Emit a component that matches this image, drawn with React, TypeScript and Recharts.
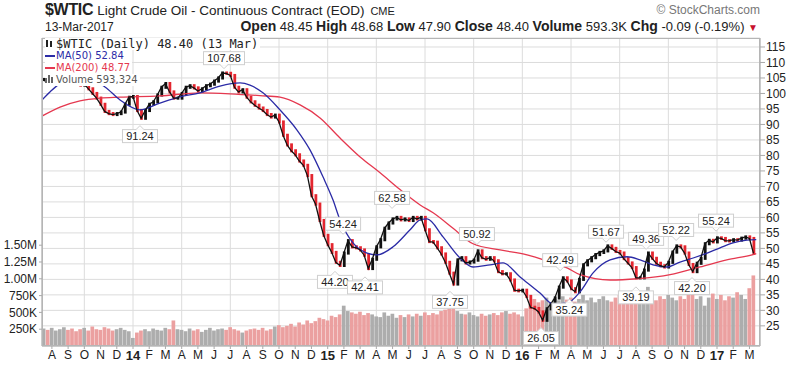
import React from "react";
import { Bar, CartesianGrid, Cell, ComposedChart, Line, ReferenceDot, XAxis, YAxis } from "recharts";

// x values are months counted from Jan 2013 (Jan 2014 = 12, Jan 2017 = 48)
const START_MONTH = 6.5;
const WEEK = 0.25;

// weekly closes
const closes = [
  104.5, 103, 104, 105.5, 106.5, 107, 106, 105, 103.5, 102.7,
  103, 101.5, 100, 98.5, 96.5, 94.2, 93.5, 93.2, 93.5, 94,
  96.5, 98.8, 99, 94.5, 92, 94.5, 96.5, 97.3, 99.5, 102,
  103.2, 100.5, 98.5, 98.5, 100, 102, 102.5, 101.8, 100.8, 101.5,
  102.5, 103, 104, 105, 106.6, 106.5, 105.8, 102, 100.5, 101.2,
  98.8, 97.3, 96.2, 95.3, 94.5, 93.2, 92.4, 93, 90.8, 86.5,
  83.4, 81.5, 80.2, 78.2, 76.8, 73.5, 67, 64.3, 59, 54.2,
  51.2, 48.7, 45.5, 44.5, 48.5, 52.5, 50.5, 50.2, 49.5, 47.8,
  43.5, 46.5, 50.5, 52.8, 56.5, 58.2, 59.5, 60, 59.2, 59.5,
  59, 60, 59.5, 60, 56, 52.2, 52, 50.2, 48.2, 45.5,
  42, 38.5, 46.3, 47, 45.3, 45.6, 46.2, 49.2, 47, 46.5,
  47, 46, 42.5, 41.8, 41.8, 39.8, 36.5, 36.3, 36.5, 34.5,
  31, 30.6, 29.5, 26.8, 30.5, 32, 34, 37.5, 40.5, 39.5,
  37, 36, 40, 44.7, 46, 47, 48, 48.7, 49.2, 50.8,
  50, 49, 48.5, 46.7, 45.3, 43.8, 40.5, 40.5, 43, 48.5,
  46.8, 45.2, 44.4, 44, 45.5, 48.8, 50.8, 50.5, 48.5, 44.8,
  42.5, 45.2, 46.8, 51.5, 52.6, 52.1, 53.4, 53.2, 52.5, 52.4,
  52.8, 52.7, 53.3, 53.7, 53.2, 48.4,
];

// weekly volume, thousands
const volumes = [
  260, 240, 270, 230, 250, 280, 240, 260, 220, 250,
  270, 230, 290, 250, 240, 280, 260, 230, 250, 270,
  240, 220, 120, 200,
  230, 250, 220, 260, 240, 230, 270, 250, 380, 250,
  240, 220, 260, 230, 250, 210, 240, 270, 230, 250,
  260, 240, 280, 250, 230, 200, 230, 250, 260, 240,
  270, 230, 250, 290, 310, 280, 300, 330, 290, 350,
  320, 380, 340, 370, 420, 400, 380, 450, 430, 470,
  600, 520, 500, 480, 510, 460, 490, 470, 440, 430,
  500, 450, 480, 420, 460, 430, 470, 440, 480, 450,
  500, 460, 490, 470, 520, 540, 560, 590, 520, 480,
  470, 500, 460, 440, 480, 450, 470, 490, 460, 500,
  520, 480, 500, 470, 440, 560, 620, 700, 650, 680,
  720, 650, 700, 680, 740, 690, 720, 660, 700, 760,
  680, 720, 650, 700, 740, 680, 660, 720, 760, 700,
  680, 740, 720, 780, 700, 880, 720, 680, 740, 700,
  760, 720, 680, 740, 700, 760, 820, 700, 740, 600,
  720, 780, 700, 760, 680, 740, 720, 800, 760, 700, 860, 1050,
];

const ma50Months = [
  6.39, 6.88, 8.12, 9.35, 10.27, 11.2, 12.43, 13.66, 14.9, 16.13,
  17.36, 18.6, 19.21, 20.01, 21.06, 22.11, 22.91, 23.71, 24.33, 24.76,
  25.56, 26.43, 27.04, 28.03, 29.08, 29.7, 30.13, 31.11, 32.16, 32.96,
  34.01, 34.81, 35.86, 37.09, 37.89, 38.76, 39.56, 40.36, 41.41, 42.46,
  43.26, 44.06, 44.92, 45.72, 46.53, 47.39, 48.19, 48.99, 49.85, 50.42,
];
const ma50Values = [
  97.9, 100.5, 104.5, 104.5, 102.1, 97.9, 94.7, 96.9, 98.9, 100.2,
  102.4, 103.4, 102.7, 100.2, 94.7, 88.2, 81.8, 73.1, 65.6, 59.2,
  51.8, 48.5, 47.9, 50.5, 56.0, 59.2, 59.5, 53.7, 46.9, 44.0,
  44.7, 45.3, 40.8, 35.6, 32.1, 32.4, 36.0, 42.1, 46.3, 47.3,
  46.3, 44.7, 44.0, 45.6, 46.9, 48.5, 50.2, 51.8, 52.7, 52.84,
];

const ma200Months = [
  6.39, 7.5, 8.73, 9.97, 11.2, 13.66, 16.13, 17.98, 19.83, 21.06,
  22.3, 23.53, 24.76, 26.0, 27.23, 28.46, 29.7, 30.5, 31.73, 32.96,
  34.63, 36.29, 37.71, 38.76, 39.56, 41.41, 43.07, 45.11, 46.96, 48.6,
  50.22, 50.42,
];
const ma200Values = [
  92.7, 95.6, 97.6, 98.5, 98.8, 99.2, 100.2, 99.9, 99.3, 98.8,
  96.3, 92.1, 85.6, 79.5, 74.4, 69.0, 64.0, 61.5, 56.5, 51.5,
  49.5, 47.9, 45.6, 43.7, 41.5, 39.8, 40.2, 41.5, 44.0, 46.3,
  48.0, 48.3,
];

// high/low callouts
const calloutMonths = [17.61, 12.43, 24.95, 24.45, 27.97, 26.3, 31.54, 33.2, 38.33, 37.15, 38.9, 41.16, 43.63, 43.0, 45.48, 46.46, 47.94];
const calloutValues = [107.68, 91.24, 54.24, 44.2, 62.58, 42.41, 37.75, 50.92, 42.49, 26.05, 35.24, 51.67, 49.36, 39.19, 52.22, 42.2, 55.24];
const calloutAbove = [true, false, true, false, true, false, false, true, true, false, false, true, true, false, true, false, true];

const FIRST_TICK = 7; // Aug 2013
const monthLabels = [
  "A", "S", "O", "N", "D",
  "14", "F", "M", "A", "M", "J", "J", "A", "S", "O", "N", "D",
  "15", "F", "M", "A", "M", "J", "J", "A", "S", "O", "N", "D",
  "16", "F", "M", "A", "M", "J", "J", "A", "S", "O", "N", "D",
  "17", "F", "M",
];
const quarterMonths = [9, 12, 15, 18, 21, 24, 27, 30, 33, 36, 39, 42, 45, 48];
const priceTicks = [25, 30, 35, 40, 45, 50, 55, 60, 65, 70, 75, 80, 85, 90, 95, 100, 105, 110, 115];
const volumeTicks = [250, 500, 750, 1000, 1250, 1500];

const X_DOMAIN: [number, number] = [6.39, 50.65];
const FONT = "'Liberation Sans', Arial, sans-serif";
const UP = "#111";
const DOWN = "#e3262f";
const VOL_UP = "#adadad";
const VOL_DOWN = "#eba0a0";
const MA50 = "#2b2ba6";
const MA200 = "#e5384f";

const rows = closes.map((c, i) => {
  const prev = i === 0 ? c : closes[i - 1];
  return {
    m: START_MONTH + i * WEEK,
    close: c,
    move: [Math.min(prev, c) - 0.5, Math.max(prev, c) + 0.5],
    vol: volumes[i],
    down: c < prev,
  };
});
const ma50Data = ma50Months.map((m, i) => ({ m, v: ma50Values[i] }));
const ma200Data = ma200Months.map((m, i) => ({ m, v: ma200Values[i] }));

function MonthTick({ x, y, payload }: any) {
  const label = monthLabels[Math.round(payload.value) - FIRST_TICK];
  const isYear = /^\d/.test(label);
  return (
    <text x={x} y={y} dy="0.75em" textAnchor="middle" fontFamily={FONT}
      fontSize={isYear ? 13 : 12} fontWeight={isYear ? 700 : 400} fill="#222">
      {label}
    </text>
  );
}

function Callout({ cx, cy, text, above }: { cx: number; cy: number; text: string; above: boolean }) {
  const w = text.length * 6 + 5;
  const h = 13;
  const top = above ? cy - 5 - h : cy + 9;
  const tip = above
    ? `M${cx - 4},${cy - 5} L${cx + 4},${cy - 5} L${cx},${cy - 1} Z`
    : `M${cx - 4},${cy + 9} L${cx + 4},${cy + 9} L${cx},${cy + 5} Z`;
  return (
    <g>
      <rect x={cx - w / 2} y={top} width={w} height={h} fill="#fff" stroke="#cfcfcf" />
      <path d={tip} fill="#fff" stroke="#cfcfcf" />
      <rect x={cx - 3.5} y={above ? top + h - 1.5 : top - 0.5} width={7} height={2} fill="#fff" />
      <text x={cx} y={top + h / 2 + 4} textAnchor="middle" fontSize={11} fontFamily={FONT} fill="#222">
        {text}
      </text>
    </g>
  );
}

const volFormat = (v: number) => (v >= 1000 ? `${(v / 1000).toFixed(2)}M` : `${v}K`);

export default function App() {
  const legendLine: React.CSSProperties = {
    width: "fit-content", background: "#fff", fontFamily: "'DejaVu Sans', Verdana, sans-serif",
    fontSize: 10, lineHeight: "12px", height: 12, paddingRight: 2, whiteSpace: "nowrap",
  };
  const label: React.CSSProperties = { fontSize: 14, fontWeight: 700 };
  return (
    <div style={{ position: "fixed", left: 0, top: 0, width: 800, height: 371, background: "#fff", fontFamily: FONT, color: "#222" }}>
      <ComposedChart width={800} height={371} data={rows} margin={{ top: 38, right: 0, bottom: 0, left: 0 }}>
        <XAxis xAxisId="x" dataKey="m" type="number" domain={X_DOMAIN} allowDataOverflow
          ticks={monthLabels.map((_, i) => FIRST_TICK + i)} interval={0} height={25}
          tick={<MonthTick />} tickSize={3} tickMargin={1} stroke="#aaa" />
        <XAxis xAxisId="xb" dataKey="m" type="number" domain={X_DOMAIN} allowDataOverflow
          ticks={quarterMonths} hide />
        <XAxis xAxisId="xl" dataKey="m" type="number" domain={X_DOMAIN} allowDataOverflow hide />
        <YAxis yAxisId="vol" orientation="left" width={42} domain={[0, 4583]} ticks={volumeTicks}
          interval={0} tickFormatter={volFormat} tickSize={3} tickMargin={2} stroke="#aaa"
          tick={{ fontSize: 12, fill: "#222", fontFamily: FONT }} />
        <YAxis yAxisId="price" orientation="right" width={40} domain={[18.5, 117.9]} ticks={priceTicks}
          interval={0} allowDataOverflow tickSize={5} tickMargin={1} stroke="#aaa"
          tick={{ fontSize: 12, fill: "#222", fontFamily: FONT }} />
        <CartesianGrid xAxisId="xb" yAxisId="price" stroke="#dcdcdc" />

        <Bar xAxisId="x" yAxisId="vol" dataKey="vol" barSize={3.7} isAnimationActive={false}>
          {rows.map((r, i) => <Cell key={i} fill={r.down ? VOL_DOWN : VOL_UP} />)}
        </Bar>
        <Line xAxisId="xl" yAxisId="price" data={ma200Data} dataKey="v" type="monotone" stroke={MA200}
          strokeWidth={1.3} dot={false} isAnimationActive={false} />
        <Line xAxisId="xl" yAxisId="price" data={ma50Data} dataKey="v" type="monotone" stroke={MA50}
          strokeWidth={1.3} dot={false} isAnimationActive={false} />
        <Line xAxisId="x" yAxisId="price" dataKey="close" type="linear" stroke={UP}
          strokeWidth={1.3} dot={false} isAnimationActive={false} />
        <Bar xAxisId="xb" yAxisId="price" dataKey="move" barSize={2.8} isAnimationActive={false}>
          {rows.map((r, i) => <Cell key={i} fill={r.down ? DOWN : UP} />)}
        </Bar>
        {calloutMonths.map((m, i) => (
          <ReferenceDot key={i} xAxisId="x" yAxisId="price" x={m} y={calloutValues[i]} r={0}
            shape={(p: any) => (
              <Callout cx={p.cx} cy={p.cy} text={calloutValues[i].toFixed(2)} above={calloutAbove[i]} />
            )} />
        ))}
      </ComposedChart>

      {/* plot frame */}
      <div style={{ position: "absolute", left: 42, top: 38, width: 718, height: 308, border: "1px solid #b5b5b5", boxSizing: "border-box", pointerEvents: "none" }} />

      {/* header */}
      <div style={{ position: "absolute", left: 45, top: 1, whiteSpace: "nowrap", display: "flex", alignItems: "baseline" }}>
        <span style={{ fontSize: 16, fontWeight: 700, letterSpacing: -0.3 }}>$WTIC</span>
        <span style={{ fontSize: 13.5, marginLeft: 4 }}>Light Crude Oil - Continuous Contract (EOD)</span>
        <span style={{ fontSize: 11, marginLeft: 6 }}>CME</span>
      </div>
      <div style={{ position: "absolute", left: 45, top: 20, fontSize: 12 }}>13-Mar-2017</div>
      <div style={{ position: "absolute", right: 40, top: 3, fontSize: 12, color: "#777" }}>© StockCharts.com</div>
      <div style={{ position: "absolute", right: 42, top: 18, fontSize: 13, whiteSpace: "nowrap" }}>
        <b style={label}>Open</b> 48.45 <b style={label}>High</b> 48.68{" "}
        <b style={label}>Low</b> 47.90 <b style={label}>Close</b> 48.40{" "}
        <b style={label}>Volume</b> 593.3K <b style={label}>Chg</b> -0.09 (-0.19%){" "}
        <span style={{ color: "#c8102e", fontSize: 10 }}>▼</span>
      </div>

      {/* in-chart legend */}
      <div style={{ position: "absolute", left: 45, top: 38, pointerEvents: "none" }}>
        <div style={{ ...legendLine, fontFamily: "'DejaVu Sans Mono', monospace", fontSize: 12, lineHeight: "12px", color: "#222" }}>
          <svg width="9" height="9" style={{ marginRight: 2 }}>
            <rect x="1" y="1" width="2" height="7" fill="#222" />
            <rect x="5" y="2" width="2" height="6" fill="#222" />
          </svg>
          $WTIC (Daily) 48.40 (13 Mar)
        </div>
        <div style={{ ...legendLine, color: MA50 }}>
          <span style={{ display: "inline-block", width: 10, height: 2, background: MA50, verticalAlign: "middle", marginRight: 1 }} />
          MA(50) 52.84
        </div>
        <div style={{ ...legendLine, color: MA200 }}>
          <span style={{ display: "inline-block", width: 10, height: 2, background: MA200, verticalAlign: "middle", marginRight: 1 }} />
          MA(200) 48.77
        </div>
        <div style={{ ...legendLine, color: "#555" }}>
          <svg width="10" height="9" style={{ marginRight: 1 }}>
            <rect x="0" y="4" width="2" height="5" fill="#666" />
            <rect x="3" y="1" width="2" height="8" fill="#666" />
            <rect x="6" y="3" width="2" height="6" fill="#666" />
          </svg>
          Volume 593,324
        </div>
      </div>
    </div>
  );
}
